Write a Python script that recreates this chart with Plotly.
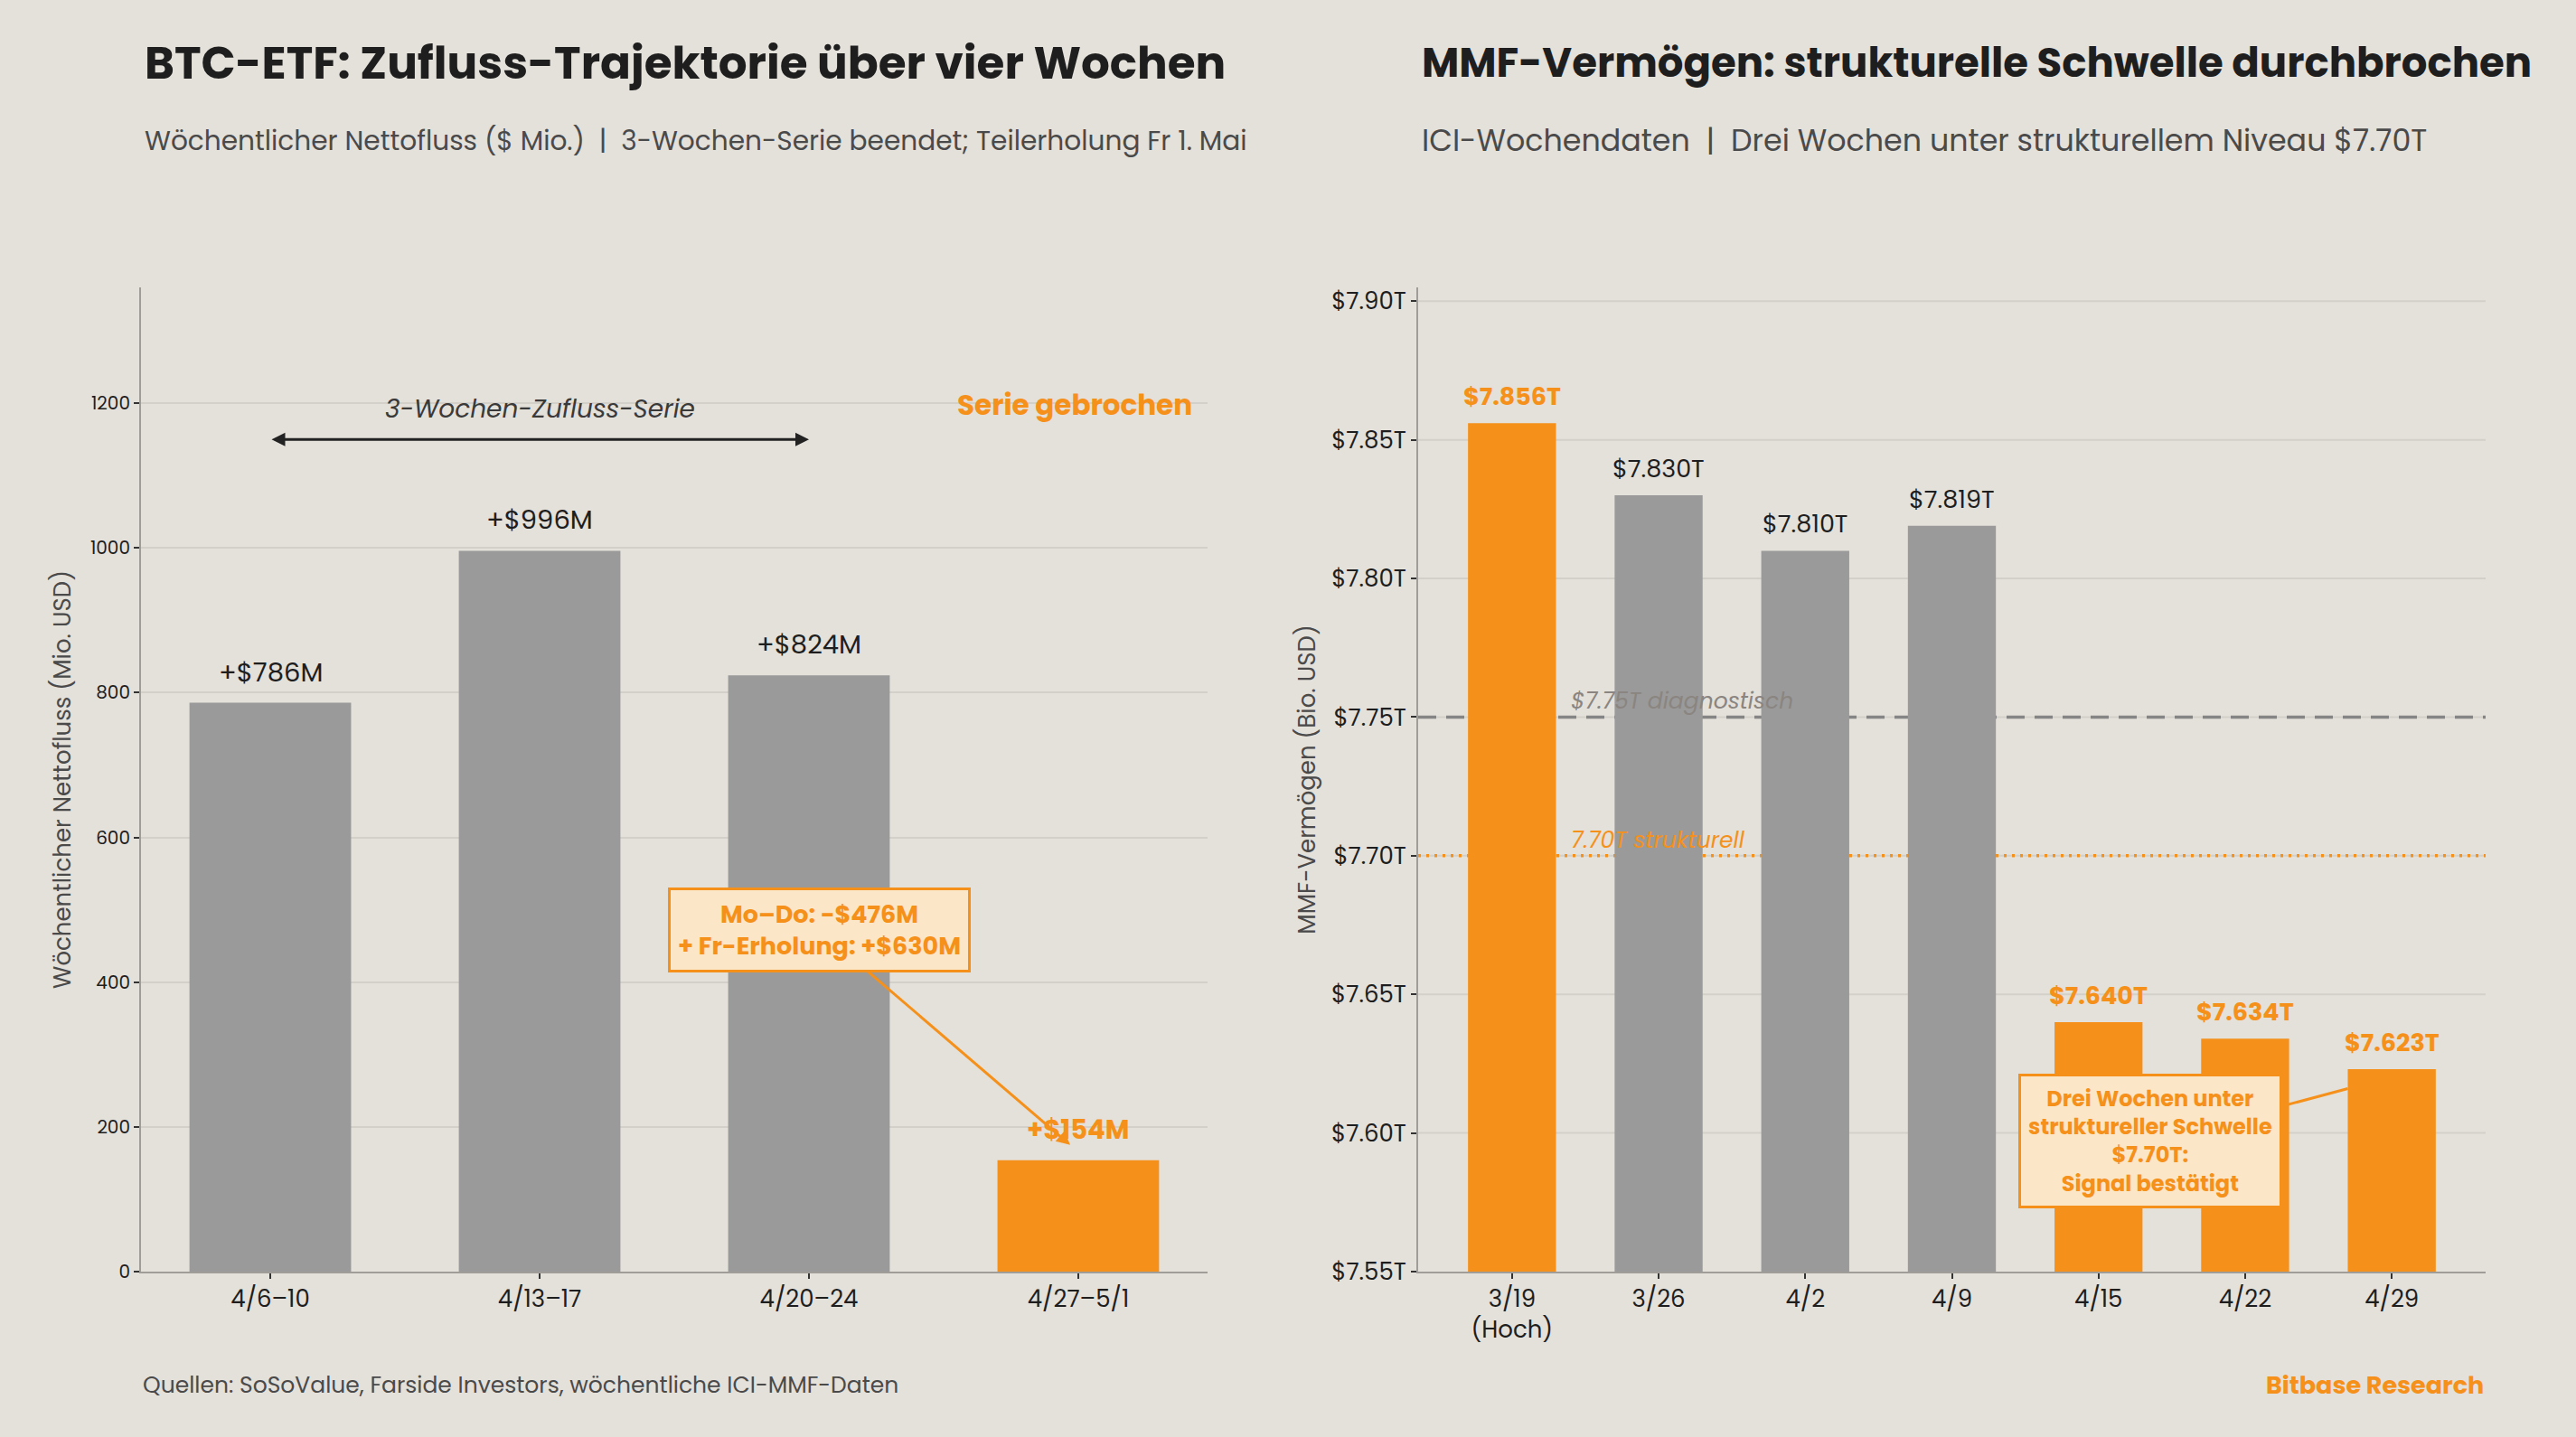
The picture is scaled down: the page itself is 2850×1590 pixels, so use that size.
import plotly.graph_objects as go
from plotly.subplots import make_subplots

# ---------------- data ----------------
etf_weeks = ["4/6–10", "4/13–17", "4/20–24", "4/27–5/1"]
etf_flows = [786, 996, 824, 154]          # $ Mio.
etf_highlight = [False, False, False, True]

mmf_weeks = ["3/19<br>(Hoch)", "3/26", "4/2", "4/9", "4/15", "4/22", "4/29"]
mmf_assets = [7.856, 7.830, 7.810, 7.819, 7.640, 7.634, 7.623]   # $ Bio.
diag_level = 7.75
struct_level = 7.70
mmf_highlight = [i == 0 or v < struct_level for i, v in enumerate(mmf_assets)]

mmf_ticks = [7.55, 7.60, 7.65, 7.70, 7.75, 7.80, 7.85, 7.90]
mmf_ticktext = [f"${t:.2f}T" for t in mmf_ticks]

# ---------------- style ----------------
BG = "#E4E0DA"
ORANGE = "#F5911A"
GRAY = "#9A9A9A"
GRID = "#D3CFC9"
DARK = "#1E1E1E"
MID = "#4A4A4A"
FONT = "Poppins, Inter, 'Open Sans', sans-serif"
W, H = 2850, 1590

fig = make_subplots(rows=1, cols=2)

fig.add_trace(go.Bar(
    x=etf_weeks, y=etf_flows, width=0.6,
    marker=dict(color=[ORANGE if h else GRAY for h in etf_highlight], line=dict(width=0)),
    showlegend=False, hoverinfo="x+y"), row=1, col=1)

fig.add_trace(go.Bar(
    x=mmf_weeks, y=mmf_assets, width=0.6,
    marker=dict(color=[ORANGE if h else GRAY for h in mmf_highlight], line=dict(width=0)),
    showlegend=False, hoverinfo="x+y"), row=1, col=2)

ann = []

# value labels
for w, v, h in zip(etf_weeks, etf_flows, etf_highlight):
    ann.append(dict(x=w, y=v, xref="x", yref="y", text=f"+${v}M", showarrow=False,
                    yanchor="bottom", yshift=12,
                    font=dict(family=FONT, size=29,
                              color=ORANGE if h else DARK,
                              weight="bold" if h else "normal")))
for w, v, h in zip(mmf_weeks, mmf_assets, mmf_highlight):
    ann.append(dict(x=w, y=v, xref="x2", yref="y2", text=f"${v:.3f}T", showarrow=False,
                    yanchor="bottom", yshift=9,
                    font=dict(family=FONT, size=27,
                              color=ORANGE if h else DARK,
                              weight="bold" if h else "normal")))

# streak arrow + label
ann.append(dict(x=2, y=1150, ax=0, ay=1150, xref="x", yref="y", axref="x", ayref="y",
                text="", showarrow=True, arrowhead=2, startarrowhead=2, arrowside="end+start",
                arrowsize=1, startarrowsize=1, arrowwidth=3, arrowcolor="#222222"))
ann.append(dict(x=1, y=1192, xref="x", yref="y", text="<i>3-Wochen-Zufluss-Serie</i>",
                showarrow=False, font=dict(family=FONT, size=28, color="#3A3A3A")))
ann.append(dict(x=3.43, y=1198, xref="x", yref="y", text="<b>Serie gebrochen</b>",
                xanchor="right", showarrow=False, font=dict(family=FONT, size=31, color=ORANGE)))

# ETF callout
ann.append(dict(x=2.97, y=175, ax=2.04, ay=472, xref="x", yref="y", axref="x", ayref="y",
                text="<b>Mo–Do: -$476M<br>+ Fr-Erholung: +$630M</b>",
                showarrow=True, arrowhead=2, arrowsize=1, arrowwidth=3, arrowcolor=ORANGE,
                bgcolor="#FCE6C8", bordercolor=ORANGE, borderwidth=3, borderpad=8,
                font=dict(family=FONT, size=27, color=ORANGE)))

# threshold labels
ann.append(dict(x=0.39, y=diag_level, xref="x2", yref="y2", text="<i>$7.75T diagnostisch</i>",
                xanchor="left", yanchor="bottom", yshift=-2, showarrow=False,
                font=dict(family=FONT, size=25, color="#8A8580")))
ann.append(dict(x=0.39, y=struct_level, xref="x2", yref="y2", text="<i>7.70T strukturell</i>",
                xanchor="left", yanchor="bottom", yshift=-2, showarrow=False,
                font=dict(family=FONT, size=25, color=ORANGE)))

# MMF callout
ann.append(dict(x=5.7, y=7.616, ax=4.35, ay=7.597, xref="x2", yref="y2", axref="x2", ayref="y2",
                text="<b>Drei Wochen unter<br>struktureller Schwelle<br>$7.70T:<br>Signal bestätigt</b>",
                showarrow=True, arrowhead=0, arrowwidth=3, arrowcolor=ORANGE,
                bgcolor="#FCE6C8", bordercolor=ORANGE, borderwidth=3, borderpad=8,
                font=dict(family=FONT, size=24, color=ORANGE)))

# titles / subtitles / footer
ann += [
    dict(x=158 / W, y=1 - 70 / H, xref="paper", yref="paper", xanchor="left", yanchor="middle",
         text="<b>BTC-ETF: Zufluss-Trajektorie über vier Wochen</b>", showarrow=False,
         font=dict(family=FONT, size=50, color=DARK)),
    dict(x=1571 / W, y=1 - 70 / H, xref="paper", yref="paper", xanchor="left", yanchor="middle",
         text="<b>MMF-Vermögen: strukturelle Schwelle durchbrochen</b>", showarrow=False,
         font=dict(family=FONT, size=45, color=DARK)),
    dict(x=158 / W, y=1 - 156 / H, xref="paper", yref="paper", xanchor="left", yanchor="middle",
         text="Wöchentlicher Nettofluss ($ Mio.)  |  3-Wochen-Serie beendet; Teilerholung Fr 1. Mai",
         showarrow=False, font=dict(family=FONT, size=29.6, color=MID)),
    dict(x=1571 / W, y=1 - 156 / H, xref="paper", yref="paper", xanchor="left", yanchor="middle",
         text="ICI-Wochendaten  |  Drei Wochen unter strukturellem Niveau $7.70T",
         showarrow=False, font=dict(family=FONT, size=33.3, color=MID)),
    dict(x=156 / W, y=1 - 1532 / H, xref="paper", yref="paper", xanchor="left", yanchor="middle",
         text="Quellen: SoSoValue, Farside Investors, wöchentliche ICI-MMF-Daten",
         showarrow=False, font=dict(family=FONT, size=25, color=MID)),
    dict(x=2750 / W, y=1 - 1532 / H, xref="paper", yref="paper", xanchor="right", yanchor="middle",
         text="<b>Bitbase Research</b>", showarrow=False,
         font=dict(family=FONT, size=27, color=ORANGE)),
]

# right-panel gridlines drawn as shapes so the threshold lines sit on top of them
shapes = [dict(type="line", xref="x2 domain", yref="y2", x0=0, x1=1, y0=t, y1=t,
               line=dict(color=GRID, width=2), layer="below")
          for t in mmf_ticks[1:]]
shapes += [
    dict(type="line", xref="x2 domain", yref="y2", x0=0, x1=1, y0=diag_level, y1=diag_level,
         line=dict(color="#858585", width=3.5, dash="20px,11px"), layer="below"),
    dict(type="line", xref="x2 domain", yref="y2", x0=0, x1=1, y0=struct_level, y1=struct_level,
         line=dict(color=ORANGE, width=3.5, dash="3px,6px"), layer="below"),
]

ydom = [1 - 1407 / H, 1 - 318 / H]
axis_common = dict(showline=True, linecolor="#A09C98", linewidth=2, ticks="outside",
                   tickcolor="#333333", ticklen=6, tickwidth=2, zeroline=False,
                   automargin=False)

fig.update_layout(
    width=W, height=H, paper_bgcolor=BG, plot_bgcolor=BG,
    margin=dict(l=0, r=0, t=0, b=0, autoexpand=False), bargap=0.4,
    font=dict(family=FONT, color=DARK),
    annotations=ann, shapes=shapes,
    xaxis=dict(domain=[156 / W, 1336 / W], range=[-0.48, 3.48], showgrid=False, type="category",
               tickfont=dict(size=26, color=DARK), **axis_common),
    yaxis=dict(domain=ydom, range=[0, 1360], tickvals=[0, 200, 400, 600, 800, 1000, 1200],
               showgrid=True, gridcolor=GRID, gridwidth=2,
               tickfont=dict(size=20, color=DARK),
               title=dict(text="Wöchentlicher Nettofluss (Mio. USD)", standoff=14,
                          font=dict(size=26, color=MID)), **axis_common),
    xaxis2=dict(domain=[1569 / W, 2750 / W], range=[-0.64, 6.64], showgrid=False, type="category",
                tickfont=dict(size=26, color=DARK), **axis_common),
    yaxis2=dict(domain=ydom, range=[7.55, 7.905], tickvals=mmf_ticks, ticktext=mmf_ticktext,
                showgrid=False,
                tickfont=dict(size=26, color=DARK),
                title=dict(text="MMF-Vermögen (Bio. USD)", standoff=10,
                           font=dict(size=26, color=MID)), **axis_common),
)

fig.write_html("out.html")
